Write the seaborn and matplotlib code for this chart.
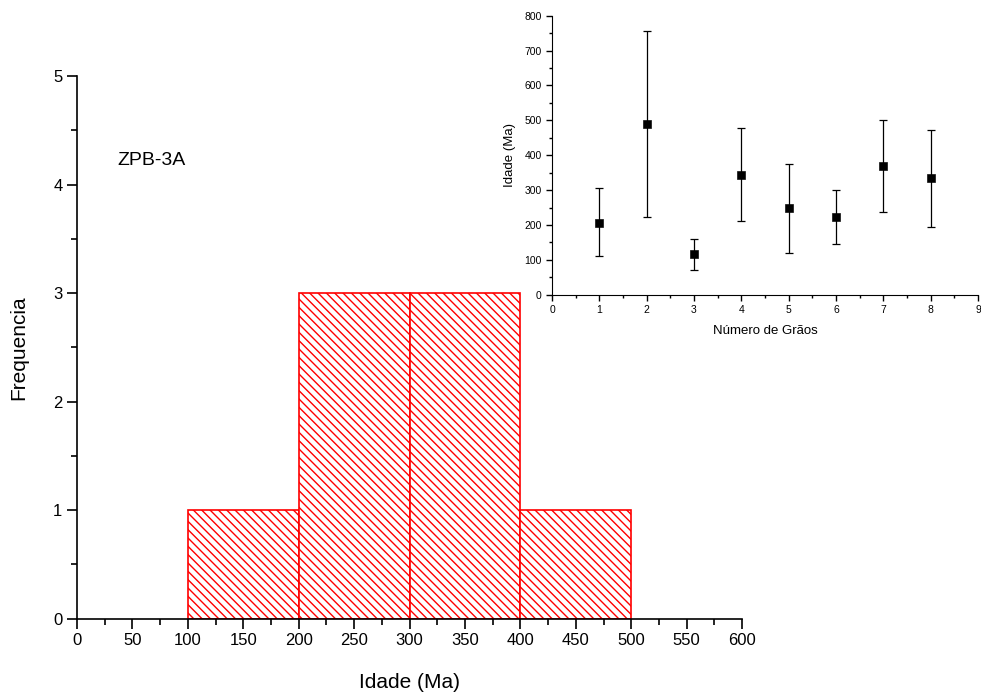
import numpy as np
import pandas as pd
import matplotlib
matplotlib.use("Agg")
import matplotlib.pyplot as plt
import seaborn as sns
from matplotlib.ticker import MultipleLocator

# histogram data
bin_edges = [100, 200, 300, 400, 500]
bin_centers = [150, 250, 350, 450]
freq = [1, 3, 3, 1]

# inset: ages per grain (asymmetric errors)
grain = [1, 2, 3, 4, 5, 6, 7, 8]
age = [207, 489, 116, 344, 248, 223, 368, 334]
age_hi = [305, 757, 161, 479, 376, 299, 500, 473]
age_lo = [110, 223, 72, 210, 120, 146, 236, 193]

sns.set_style("ticks")
plt.rcParams['font.family'] = ['Liberation Sans', 'DejaVu Sans']
plt.rcParams['hatch.color'] = 'red'
plt.rcParams['hatch.linewidth'] = 1.0
plt.rcParams['text.color'] = 'black'
plt.rcParams['axes.labelcolor'] = 'black'

fig = plt.figure(figsize=(9.81, 7), dpi=100)
ax = fig.add_axes([0.0785, 0.1164, 0.678, 0.775])

df = pd.DataFrame({'idade': bin_centers, 'freq': freq})
sns.histplot(data=df, x='idade', weights='freq', bins=bin_edges, ax=ax,
             facecolor='white', edgecolor='red', linewidth=1.2,
             hatch='\\\\\\\\', alpha=1)

ax.set_xlim(0, 600)
ax.set_ylim(0, 5)
ax.xaxis.set_major_locator(MultipleLocator(50))
ax.xaxis.set_minor_locator(MultipleLocator(25))
ax.yaxis.set_major_locator(MultipleLocator(1))
ax.yaxis.set_minor_locator(MultipleLocator(0.5))
ax.tick_params(which='major', direction='out', length=7, width=1.2, labelsize=12, colors='black')
ax.tick_params(which='minor', direction='out', length=4, width=1.2, colors='black')
for s in ['top', 'right']:
    ax.spines[s].set_visible(False)
for s in ['left', 'bottom']:
    ax.spines[s].set_linewidth(1.2)
    ax.spines[s].set_color('black')
ax.set_xlabel('Idade (Ma)', fontsize=15, labelpad=18)
ax.set_ylabel('Frequencia', fontsize=15, labelpad=18)
ax.text(36, 4.22, 'ZPB-3A', fontsize=14, va='center', ha='left')

# inset
ax2 = fig.add_axes([0.5627, 0.579, 0.4343, 0.3986])
yerr = [np.array(age) - np.array(age_lo), np.array(age_hi) - np.array(age)]
ax2.errorbar(grain, age, yerr=yerr, fmt='none', ecolor='black',
             elinewidth=0.9, capsize=3, capthick=0.9)
sns.scatterplot(x=grain, y=age, marker='s', color='black', s=30,
                edgecolor='black', ax=ax2, zorder=3)
ax2.set_xlim(0, 9)
ax2.set_ylim(0, 800)
ax2.xaxis.set_major_locator(MultipleLocator(1))
ax2.xaxis.set_minor_locator(MultipleLocator(0.5))
ax2.yaxis.set_major_locator(MultipleLocator(100))
ax2.yaxis.set_minor_locator(MultipleLocator(50))
ax2.tick_params(which='major', direction='out', length=4, width=1, labelsize=7.5, colors='black')
ax2.tick_params(which='minor', direction='out', length=2, width=1, colors='black')
for s in ['top', 'right']:
    ax2.spines[s].set_visible(False)
for s in ['left', 'bottom']:
    ax2.spines[s].set_color('black')
ax2.set_xlabel('Número de Grãos', fontsize=9.5, labelpad=7)
ax2.set_ylabel('Idade (Ma)', fontsize=9.5, labelpad=6)
ax2.patch.set_alpha(0)

fig.savefig('out.png', dpi=100)
